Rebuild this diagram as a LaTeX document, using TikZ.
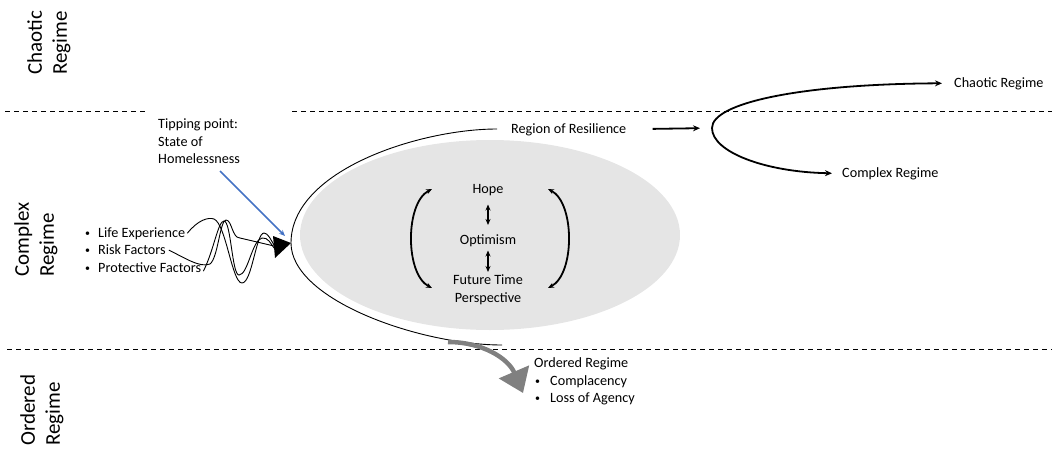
\documentclass[tikz,border=0pt]{standalone}
\usepackage{fontspec}
\usepackage{graphicx}
\setmainfont{Carlito}
\usetikzlibrary{arrows.meta}
\newcommand\smallbul{\raisebox{0.5pt}{\scalebox{0.7}{\textbullet}}}
\newcommand\lbul{\makebox[13pt][l]{\smallbul}}
\begin{document}
\begin{tikzpicture}[x=1pt,y=-1pt,
  txt/.style={font=\fontsize{14.2}{17.5}\selectfont, inner sep=0pt, align=left},
  regime/.style={font=\fontsize{21}{25}\selectfont, inner sep=0pt, align=left, rotate=90, anchor=west},
  divider/.style={line width=0.9pt, dash pattern=on 5pt off 4pt},
  boldarrow/.style={line width=1.8pt, -{Stealth[length=7pt,width=6pt]}},
  twoway/.style={line width=1.8pt, {Stealth[length=6pt,width=5pt]}-{Stealth[length=6pt,width=5pt]}},
  wave/.style={line width=0.9pt}
]
\useasboundingbox (0,0) rectangle (1052,453);

% regime bands
\draw[divider] (5,111) -- (146,111);
\draw[divider] (292,111) -- (1052,111);
\draw[divider] (7,349) -- (1052,349);

\node[regime] (chaoticlab) at (49,75) {Chaotic\\Regime};
\node[regime] (complexlab) at (36,277) {Complex\\Regime};
\node[regime] (orderedlab) at (42,446) {Ordered\\Regime};

% basin of the complex regime
\fill[black!10] (490,235) ellipse [x radius=190, y radius=95];
\coordinate (entry) at (291,243);
\draw[line width=0.9pt] (497,129) .. controls (420,129) and (291,170) .. (entry)
  .. controls (291,300) and (420,345) .. (502,345);

% escape towards the ordered regime
\draw[black!50, line width=4.5pt, -{Triangle[length=23pt,width=32pt]}]
  (448,342) .. controls (482,342) and (508,358) .. (523,393);

% labels
\node[txt, anchor=north west] (tip) at (158,119) {Tipping point:\\State of\\Homelessness};
\node[txt, anchor=base west] (region) at (511,133) {Region of Resilience};
\node[txt, anchor=base] (hope) at (488,193) {Hope};
\node[txt, anchor=base] (opt) at (488,244) {Optimism};
\node[txt, anchor=north, align=center] (ftp) at (488,275) {Future Time\\Perspective};

\node[txt, anchor=base west] (chaos) at (954,87) {Chaotic Regime};
\node[txt, anchor=base west] (cplx) at (842,177) {Complex Regime};

\node[txt, anchor=base west] (ord) at (534,367) {Ordered Regime};
\node[txt, anchor=base west] (compl) at (535,385) {\makebox[15pt][l]{\smallbul}Complacency};
\node[txt, anchor=base west] (loss) at (535,402) {\makebox[15pt][l]{\smallbul}Loss of Agency};

\node[txt, anchor=base west] (life) at (85,237) {\lbul Life Experience};
\node[txt, anchor=base west] (risk) at (85,254) {\lbul Risk Factors};
\node[txt, anchor=base west] (prot) at (85,272) {\lbul Protective Factors};

% interplay of hope, optimism and future time perspective
\draw[twoway] ([yshift=-9pt]hope.south) -- ([yshift=9pt]opt.north);
\draw[twoway] ([yshift=-4pt]opt.south) -- ([yshift=3pt]ftp.north);
\coordinate (lt) at (432,189);
\coordinate (lb) at (432,288);
\coordinate (rt) at (548,189);
\coordinate (rb) at (548,288);
\draw[twoway] (lt) .. controls (405,203) and (405,274) .. (lb);
\draw[twoway] (rt) .. controls (575,203) and (575,274) .. (rb);

% from the region of resilience to the fork
\coordinate (fork) at (712,128);
\draw[boldarrow, shorten <=26pt, shorten >=12pt] (region.east) -- (fork);
\draw[line width=1.8pt, {Stealth[length=7pt,width=6pt]}-{Stealth[length=7pt,width=6pt]}]
  ([xshift=-12pt]chaos.west) .. controls (800,84) and (712,103) .. (fork)
  .. controls (712,152) and (765,172) .. ([xshift=-10pt]cplx.west);

% tipping point pointer
\coordinate (tipfoot) at (220,171);
\draw[line width=1.6pt, color={rgb,255:red,68;green,114;blue,196}, -{Stealth[length=6pt,width=5pt]}]
  (tipfoot) -- (285,236);

% converging influences
\fill (273,236) -- (entry) -- (275,258) -- cycle;
\draw[wave] ([xshift=2pt]life.east) .. controls (198,220) and (208,217) .. (214,219)
  .. controls (226,224) and (232,283) .. (242,283)
  .. controls (252,283) and (256,233) .. (264,233)
  .. controls (268,233) and (271,240) .. (274,245);
\draw[wave] ([xshift=3pt,yshift=-1pt]risk.east) .. controls (185,258) and (200,268) .. (210,264)
  .. controls (218,258) and (220,220) .. (226,220)
  .. controls (232,220) and (232,238) .. (240,238) -- (274,246);
\draw[wave] ([xshift=2pt,yshift=-4pt]prot.east) .. controls (214,250) and (218,221) .. (224,221)
  .. controls (231,221) and (232,275) .. (239,275)
  .. controls (248,275) and (252,240) .. (262,238)
  .. controls (268,237) and (271,244) .. (274,248);
\end{tikzpicture}
\end{document}
